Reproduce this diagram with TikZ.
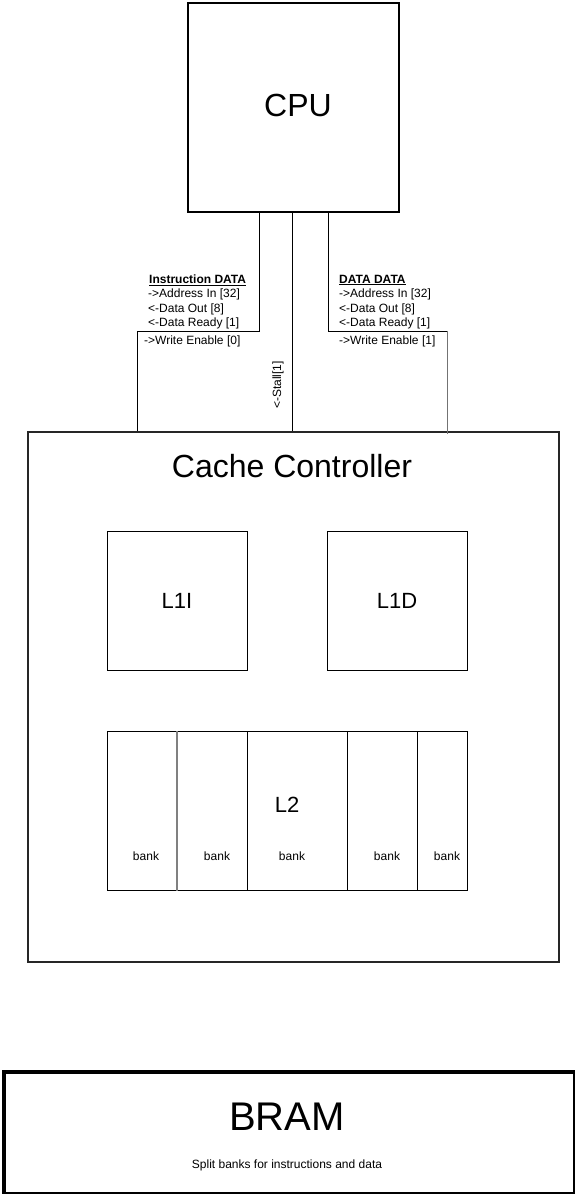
\documentclass[tikz,border=0pt]{standalone}
\usepackage{fontspec}
\setmainfont{Liberation Sans}
\begin{document}
\begin{tikzpicture}[x=1pt,y=-1pt,
  box/.style={draw,inner sep=0pt,anchor=north west},
  wire/.style={line width=0.9pt},
  lbl/.style={anchor=west,inner sep=0pt,font=\fontsize{12}{14}\selectfont},
  bk/.style={inner sep=0pt,font=\fontsize{12}{14}\selectfont}]
\useasboundingbox (0,0) rectangle (575,1194);
% main boxes
\node[box,line width=2pt,minimum width=211pt,minimum height=209pt] (cpu) at (187,2) {};
\node[font=\fontsize{32}{34}\selectfont] (cputxt) at (298,105) {CPU};
\node[box,line width=1.6pt,draw=black!85,minimum width=531pt,minimum height=530pt] (cache) at (27,431) {};
\node[font=\fontsize{32}{34}\selectfont] (cachetxt) at (292,466) {Cache Controller};
\node[box,line width=1pt,minimum width=140pt,minimum height=139pt] (l1i) at (107,531) {};
\node[font=\fontsize{22}{24}\selectfont] (l1itxt) at (177,601) {L1I};
\node[box,line width=1pt,minimum width=140pt,minimum height=139pt] (l1d) at (327,531) {};
\node[font=\fontsize{22}{24}\selectfont] (l1dtxt) at (397,601) {L1D};
% L2 banks
\node[box,line width=1pt,minimum width=70pt,minimum height=159pt] (b1) at (107,731) {};
\node[box,line width=1pt,minimum width=70pt,minimum height=159pt] (b2) at (177,731) {};
\node[box,line width=1pt,minimum width=100pt,minimum height=159pt] (b3) at (247,731) {};
\node[box,line width=1pt,minimum width=70pt,minimum height=159pt] (b4) at (347,731) {};
\node[box,line width=1pt,minimum width=50pt,minimum height=159pt] (b5) at (417,731) {};
\draw[line width=1.6pt,draw=black!50] (b2.north west) -- (b2.south west);
\node[font=\fontsize{22}{24}\selectfont] (l2txt) at (287,805) {L2};
\node[bk] (k1) at (146,856) {bank};
\node[bk] (k2) at (217,856) {bank};
\node[bk] (k3) at (292,856) {bank};
\node[bk] (k4) at (387,856) {bank};
\node[bk] (k5) at (447,856) {bank};
% BRAM
\node[box,line width=4pt,minimum width=571pt,minimum height=122pt] (bram) at (2,1070) {};
\node[font=\fontsize{40}{42}\selectfont] (bramtxt) at (287,1117) {BRAM};
\node[bk] (bramsub) at (287,1165) {Split banks for instructions and data};
% connectors
\coordinate (i1) at (259,331);
\coordinate (i2) at (137,331);
\coordinate (d1) at (328,331);
\coordinate (d2) at (447,331);
\coordinate (s1) at (292,0);
\draw[wire] (cpu.south -| i1) -- (i1) -- (i2) -- (i2 |- cache.north);
\draw[wire] (cpu.south -| s1) -- (cache.north -| s1);
\draw[wire] (cpu.south -| d1) -- (d1) -- (d2);
\draw[wire,draw=black!55] (d2) -- ([yshift=-3pt]cache.north -| d2);
% labels
\node[lbl,font=\fontsize{12}{14}\selectfont\bfseries] (ih) at (149,280) {\underline{Instruction DATA}};
\node[lbl] (ia) at (148,294) {->Address In [32]};
\node[lbl] (io) at (148,309) {<-Data Out [8]};
\node[lbl] (ir) at (148,323) {<-Data Ready [1]};
\node[lbl] (iw) at (144,341) {->Write Enable [0]};
\node[lbl,font=\fontsize{12}{14}\selectfont\bfseries] (dh) at (339,280) {\underline{DATA DATA}};
\node[lbl] (da) at (339,294) {->Address In [32]};
\node[lbl] (do) at (339,309) {<-Data Out [8]};
\node[lbl] (dr) at (339,323) {<-Data Ready [1]};
\node[lbl] (dw) at (339,341) {->Write Enable [1]};
\node[bk,rotate=90] (st) at (278,385) {<-Stall[1]};
\end{tikzpicture}
\end{document}
